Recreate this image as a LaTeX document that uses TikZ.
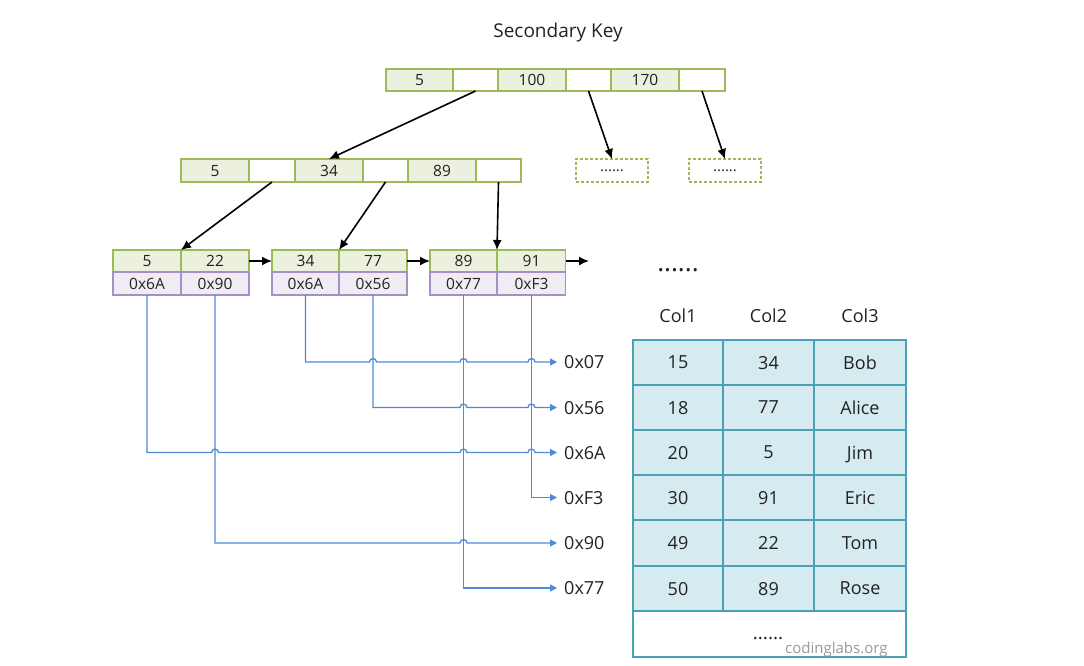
\documentclass[tikz,border=0pt]{standalone}
\usepackage{fontspec}
\setmainfont{Open Sans}
\usetikzlibrary{arrows.meta}
\definecolor{gborder}{HTML}{9BBB59}
\definecolor{gfill}{HTML}{EBF1DE}
\definecolor{pborder}{HTML}{A78EC8}
\definecolor{pfill}{HTML}{EFECF4}
\definecolor{tborder}{HTML}{4AA0B4}
\definecolor{tfill}{HTML}{D5EBF0}
\definecolor{bline}{HTML}{5089DA}
\definecolor{txt}{HTML}{222222}
\begin{document}
\begin{tikzpicture}[x=1pt,y=-1pt,
  cellbase/.style={line width=1.6pt, inner sep=0pt, outer sep=0pt, text=txt, text depth=0pt,
    font=\fontsize{15.5}{15.5}\selectfont},
  gcell/.style={cellbase, draw=gborder, fill=gfill, minimum height=22pt},
  wcell/.style={cellbase, draw=gborder, fill=white, minimum height=22pt},
  pcell/.style={cellbase, draw=pborder, fill=pfill, minimum height=22pt},
  dbox/.style={cellbase, draw=gborder, dash pattern=on 3pt off 2pt, minimum width=72pt, minimum height=23pt},
  tcell/.style={cellbase, draw=tborder, fill=tfill, minimum height=45pt, font=\fontsize{18}{18}\selectfont},
  hdr/.style={text=txt, inner sep=0pt, font=\fontsize{18}{18}\selectfont},
  addr/.style={text=txt, anchor=west, inner sep=0pt, inner xsep=7pt, text depth=0pt, font=\fontsize{18}{18}\selectfont},
  blk/.style={line width=1.6pt, -{Latex[length=10pt,width=9pt]}},
  bl/.style={draw=bline, line width=1.3pt, -{Triangle[length=7pt,width=7pt]}},
]
\useasboundingbox[fill=white] (0,0) rectangle (1084,665);

% title
\node[hdr, font=\fontsize{19}{19}\selectfont] (title) at (558,33) {Secondary Key};

% root
\node[gcell, minimum width=67pt] (t1) at (419.5,80) {5};
\node[wcell, minimum width=45pt] (t2) at (475.5,80) {};
\node[gcell, minimum width=68pt] (t3) at (532,80) {100};
\node[wcell, minimum width=45pt] (t4) at (588.5,80) {};
\node[gcell, minimum width=68pt] (t5) at (645,80) {170};
\node[wcell, minimum width=46pt] (t6) at (702,80) {};

% level 2
\node[gcell, minimum width=68pt, minimum height=23pt] (m1) at (215,170.5) {5};
\node[wcell, minimum width=46pt, minimum height=23pt] (m2) at (272,170.5) {};
\node[gcell, minimum width=68pt, minimum height=23pt] (m3) at (329,170.5) {34};
\node[wcell, minimum width=45pt, minimum height=23pt] (m4) at (385.5,170.5) {};
\node[gcell, minimum width=68pt, minimum height=23pt] (m5) at (442,170.5) {89};
\node[wcell, minimum width=45pt, minimum height=23pt] (m6) at (498.5,170.5) {};

\node[dbox] (d1) at (612,170.5) {\fontsize{15}{15}\selectfont ......};
\node[dbox] (d2) at (725,170.5) {\fontsize{15}{15}\selectfont ......};

% leaves
\node[gcell, minimum width=68pt] (k1a) at (147,261) {5};
\node[gcell, minimum width=68pt] (k1b) at (215,261) {22};
\node[pcell, minimum width=68pt, minimum height=23pt] (l1a) at (147,283.5) {0x6A};
\node[pcell, minimum width=68pt, minimum height=23pt] (l1b) at (215,283.5) {0x90};

\node[gcell, minimum width=67pt] (k2a) at (305.5,261) {34};
\node[gcell, minimum width=68pt] (k2b) at (373,261) {77};
\node[pcell, minimum width=67pt, minimum height=23pt] (l2a) at (305.5,283.5) {0x6A};
\node[pcell, minimum width=68pt, minimum height=23pt] (l2b) at (373,283.5) {0x56};

\node[gcell, minimum width=67pt] (k3a) at (463.5,261) {89};
\node[gcell, minimum width=68pt] (k3b) at (531.5,261) {91};
\node[pcell, minimum width=67pt, minimum height=23pt] (l3a) at (463.5,283.5) {0x77};
\node[pcell, minimum width=68pt, minimum height=23pt] (l3b) at (531.5,283.5) {0xF3};

\coordinate (lend) at (589,261);
\node[hdr, anchor=base, font=\fontsize{26}{26}\selectfont] (more) at (678,271) {......};

% tree arrows
\draw[blk] (t2.south) -- (m3.north);
\draw[blk] (t4.south) -- (d1.north);
\draw[blk] (t6.south) -- (d2.north);
\draw[blk] (m2.south) -- (k1a.north east);
\draw[blk] (m4.south) -- (k2a.north east);
\draw[blk] (m6.south) -- (k3a.north east);
\draw[blk] (k1b.east) -- (k2a.west);
\draw[blk] (k2b.east) -- (k3a.west);
\draw[blk] (k3b.east) -- (lend);

% address labels
\node[addr] (x07) at (557,362) {0x07};
\node[addr] (x56) at (557,407.5) {0x56};
\node[addr] (x6A) at (557,452.5) {0x6A};
\node[addr] (xF3) at (557,497.5) {0xF3};
\node[addr] (x90) at (557,543) {0x90};
\node[addr] (x77) at (557,588) {0x77};

% blue pointer lines with hops
\draw[bl] (l2a.south) -- (l2a.south |- x07.west)
  -- (369.5,362) .. controls +(0,-4.5) and +(0,-4.5) .. (376.5,362)
  -- (460,362) .. controls +(0,-4.5) and +(0,-4.5) .. (467,362)
  -- (528,362) .. controls +(0,-4.5) and +(0,-4.5) .. (535,362)
  -- (x07.west);
\draw[bl] (l2b.south) -- (l2b.south |- x56.west)
  -- (460,407.5) .. controls +(0,-4.5) and +(0,-4.5) .. (467,407.5)
  -- (528,407.5) .. controls +(0,-4.5) and +(0,-4.5) .. (535,407.5)
  -- (x56.west);
\draw[bl] (l1a.south) -- (l1a.south |- x6A.west)
  -- (211.5,452.5) .. controls +(0,-4.5) and +(0,-4.5) .. (218.5,452.5)
  -- (460,452.5) .. controls +(0,-4.5) and +(0,-4.5) .. (467,452.5)
  -- (528,452.5) .. controls +(0,-4.5) and +(0,-4.5) .. (535,452.5)
  -- (x6A.west);
\draw[bl] (l3b.south) |- (xF3.west);
\draw[bl] (l1b.south) -- (l1b.south |- x90.west)
  -- (460,543) .. controls +(0,-4.5) and +(0,-4.5) .. (467,543)
  -- (x90.west);
\draw[bl] (l3a.south) |- (x77.west);

% table headers
\node[hdr] (h1) at (678,316) {Col1};
\node[hdr] (h2) at (768.5,316) {Col2};
\node[hdr] (h3) at (860,316) {Col3};

% table
\foreach \r/\y/\a/\b/\c in {1/362.5/15/34/Bob, 2/407.5/18/77/Alice, 3/452.5/20/5/Jim,
   4/497.5/30/91/Eric, 5/543/49/22/Tom, 6/588.5/50/89/Rose} {
  \node[tcell, minimum width=90pt] (r\r c1) at (678,\y) {\a};
  \node[tcell, minimum width=91pt] (r\r c2) at (768.5,\y) {\b};
  \node[tcell, minimum width=92pt] (r\r c3) at (860,\y) {\c};
}
\node[tcell, fill=white, minimum width=273pt, minimum height=46pt] (rlast) at (769.5,634) {};
\node[hdr, anchor=base, font=\fontsize{19}{19}\selectfont] (tdots) at (768,639) {......};
\node[anchor=base west, inner sep=0pt, text=black!40, font=\fontsize{15}{15}\selectfont] (wm) at (785,653) {codinglabs.org};
\end{tikzpicture}
\end{document}
